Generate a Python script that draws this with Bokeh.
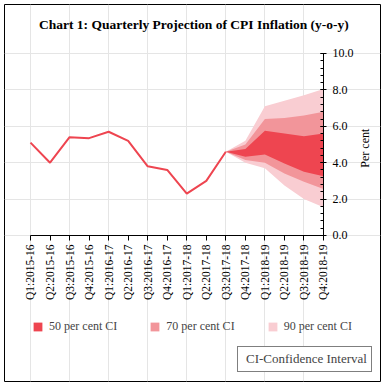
from bokeh.plotting import figure
from bokeh.models import (Range1d, FixedTicker, NumeralTickFormatter, Legend,
                          LegendItem, Label, LinearAxis)
from bokeh.embed import file_html
from bokeh.resources import INLINE
import math

quarters = ["Q1:2015-16", "Q2:2015-16", "Q3:2015-16", "Q4:2015-16",
            "Q1:2016-17", "Q2:2016-17", "Q3:2016-17", "Q4:2016-17",
            "Q1:2017-18", "Q2:2017-18", "Q3:2017-18", "Q4:2017-18",
            "Q1:2018-19", "Q2:2018-19", "Q3:2018-19", "Q4:2018-19"]
cpi_actual = [5.1, 4.0, 5.4, 5.35, 5.7, 5.2, 3.8, 3.6, 2.3, 3.0, 4.6]
proj_quarters = quarters[10:]
upper90 = [4.6, 5.2, 7.1, 7.4, 7.7, 8.05]
upper70 = [4.6, 5.0, 6.4, 6.45, 6.6, 6.8]
upper50 = [4.6, 4.75, 5.75, 5.6, 5.45, 5.6]
lower50 = [4.6, 4.32, 4.45, 3.95, 3.5, 3.25]
lower70 = [4.6, 4.15, 4.0, 3.4, 2.95, 2.55]
lower90 = [4.6, 4.0, 3.7, 2.75, 2.0, 1.55]
y_ticks = [0, 2, 4, 6, 8, 10]

C50, C70, C90 = "#EE4550", "#F2959A", "#F9CDD2"
SERIF = "Liberation Serif"

idx = {q: i for i, q in enumerate(quarters)}
xa = [idx[q] for q in quarters[:len(cpi_actual)]]
xp = [idx[q] for q in proj_quarters]
n = len(quarters) - 1

# the frame is the outer box; data area 0..15 x 0..10 sits inside it
p = figure(width=384, height=385, output_backend="svg", toolbar_location=None,
           title=None, x_axis_location=None, y_axis_location=None,
           x_range=Range1d(-1.331, 17.918), y_range=Range1d(-8.022, 12.692),
           min_border_left=4, min_border_right=4, min_border_top=4, min_border_bottom=4)
p.outline_line_color = "black"
p.outline_line_width = 1
p.background_fill_color = "white"
p.border_fill_color = "white"

r90 = p.varea(x=xp, y1=lower90, y2=upper90, fill_color=C90)
r70 = p.varea(x=xp, y1=lower70, y2=upper70, fill_color=C70)
r50 = p.varea(x=xp, y1=lower50, y2=upper50, fill_color=C50)
p.line(x=xa, y=cpi_actual, line_color=C50, line_width=2)
note_r = p.line(x=[], y=[], line_alpha=0)

# x axis at y = 0
xax = LinearAxis(fixed_location=0, bounds=(0, n))
xax.ticker = FixedTicker(ticks=list(range(len(quarters))))
xax.major_label_overrides = {i: q for i, q in enumerate(quarters)}
xax.major_label_orientation = math.pi / 2
xax.major_label_text_font = SERIF
xax.major_label_text_font_size = "11.5px"
xax.major_label_text_color = "black"
xax.major_tick_in = 0
xax.major_tick_out = 5
xax.minor_tick_line_color = None
xax.major_label_standoff = 4
xax.axis_line_color = "black"
xax.major_tick_line_color = "black"
p.add_layout(xax, "below")

# y axis at the last quarter, labels to the right
yax = LinearAxis(fixed_location=n, bounds=(0, 10))
yax.ticker = FixedTicker(ticks=y_ticks, minor_ticks=[v * 0.4 for v in range(26)])
yax.formatter = NumeralTickFormatter(format="0.0")
yax.major_label_text_font = SERIF
yax.major_label_text_font_size = "12px"
yax.major_label_text_color = "black"
yax.major_tick_in = 3
yax.major_tick_out = 3
yax.minor_tick_in = 3
yax.minor_tick_out = 0
yax.major_label_standoff = 6
yax.axis_line_color = "black"
yax.major_tick_line_color = "black"
yax.minor_tick_line_color = "black"
p.add_layout(yax, "right")

# y axis title
p.add_layout(Label(x=17.15, y=4.8, text="Per cent", angle=math.pi / 2,
                   text_align="center", text_baseline="middle",
                   text_font=SERIF, text_font_size="12px", text_color="black"))

# chart title
p.add_layout(Label(x=8.45, y=11.6, text="Chart 1:  Quarterly Projection of CPI Inflation (y-o-y)",
                   text_align="center", text_baseline="middle", text_font=SERIF,
                   text_font_style="bold", text_font_size="13.5px", text_color="black"))

# legend
legend = Legend(items=[LegendItem(label="50 per cent CI", renderers=[r50]),
                       LegendItem(label="70 per cent CI", renderers=[r70]),
                       LegendItem(label="90 per cent CI", renderers=[r90])],
                orientation="horizontal", location=(28, 47), padding=0, margin=0,
                spacing=32, glyph_width=11, glyph_height=11, label_height=11,
                label_standoff=6, label_text_font=SERIF, label_text_font_size="12px",
                border_line_color=None, background_fill_alpha=0)
p.add_layout(legend, "center")

# CI note box
note = Legend(items=[LegendItem(label="CI-Confidence Interval", renderers=[note_r])],
              location=(233, 9), padding=4, margin=0, glyph_width=4, glyph_height=12,
              label_height=12, label_standoff=0, label_text_font=SERIF,
              label_text_font_size="13px", border_line_color="black", border_line_width=1,
              background_fill_color="white", background_fill_alpha=1)
p.add_layout(note, "center")

open("out.html", "w").write(file_html(p, INLINE))
